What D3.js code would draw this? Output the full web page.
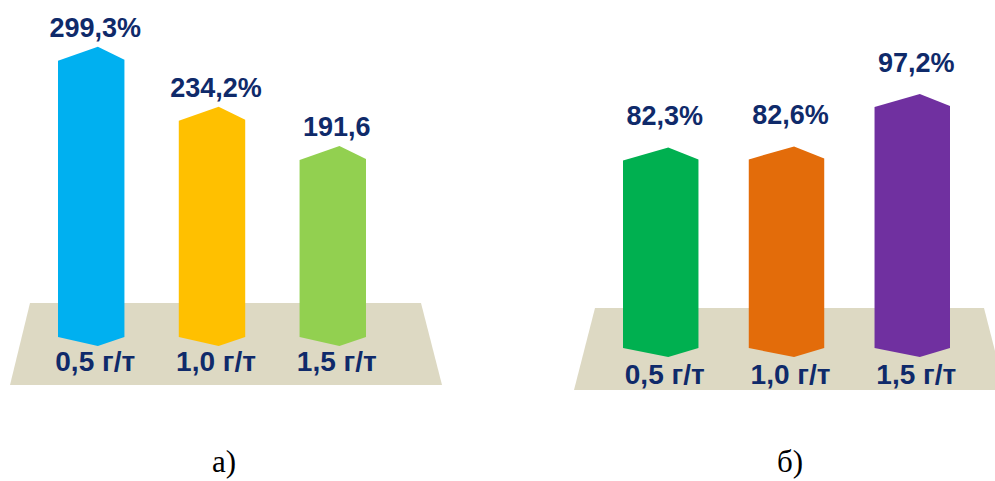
<!DOCTYPE html>
<html>
<head>
<meta charset="utf-8">
<script src="https://cdn.jsdelivr.net/npm/d3@7"></script>
<style>
    html, body { margin: 0; padding: 0; background: #fff; }
    svg { display: block; }
</style>
</head>
<body>
<div id="chart"></div>
<script>
// categories shared by both panels
var categories = ["0,5 г/т", "1,0 г/т", "1,5 г/т"];

// panel а)
var valuesA = [299.3, 234.2, 191.6];
var labelsA = ["299,3%", "234,2%", "191,6"];
var colorsA = ["#00b0f0", "#ffc000", "#92d050"];

// panel б)
var valuesB = [82.3, 82.6, 97.2];
var labelsB = ["82,3%", "82,6%", "97,2%"];
var colorsB = ["#00b050", "#e36c0a", "#7030a0"];

var captions = ["а)", "б)"];

var width = 995, height = 481;
var textColor = "#0f2a6a",
    floorColor = "#ddd9c3";

var svg = d3.select("#chart").append("svg")
    .attr("width", width)
    .attr("height", height);

var panels = [
    {
        values: valuesA, labels: labelsA, colors: colorsA, caption: captions[0],
        xRange: [58, 366], padding: 0.45,
        yDomain: [0, 300], yRange: [337, 60],
        floor: [[30, 303], [421, 303], [442, 385], [10, 385]],
        peak: 14, labelGap: 10, catY: 371, captionX: 224
    },
    {
        values: valuesB, labels: labelsB, colors: colorsB, caption: captions[1],
        xRange: [623, 950], padding: 0.40,
        yDomain: [30, 100], yRange: [348, 97],
        floor: [[595, 308], [984, 308], [1005, 390], [574, 390]],
        peak: 13, labelGap: 22, catY: 384, captionX: 790
    }
];

panels.forEach(function(p){
    var x = d3.scaleBand()
        .domain(d3.range(categories.length))
        .range(p.xRange)
        .paddingInner(p.padding)
        .paddingOuter(0);

    var y = d3.scaleLinear()
        .domain(p.yDomain)
        .range(p.yRange);

    var g = svg.append("g");

    // the beige "floor" under the columns
    g.append("path")
        .attr("d", d3.line()(p.floor) + "Z")
        .attr("fill", floorColor);

    var base = y(p.yDomain[0]);

    // hexagonal-ish column: top and bottom have a ridge at 60% of width
    function barPath(d, i){
        var x0 = x(i), x1 = x0 + x.bandwidth(),
            px = x0 + x.bandwidth() * 0.6,
            top = y(d);
        return "M" + x0 + "," + top +
            "L" + px + "," + (top - p.peak) +
            "L" + x1 + "," + (top - 1) +
            "L" + x1 + "," + base +
            "L" + px + "," + (base + 9) +
            "L" + x0 + "," + base + "Z";
    }

    g.selectAll("path.bar")
        .data(p.values)
        .enter().append("path")
        .attr("class", "bar")
        .attr("d", barPath)
        .attr("fill", function(d, i){ return p.colors[i]; });

    g.selectAll("text.value")
        .data(p.values)
        .enter().append("text")
        .attr("class", "value")
        .attr("x", function(d, i){ return x(i) + x.bandwidth() / 2 + 4; })
        .attr("y", function(d){ return y(d) - p.peak - p.labelGap; })
        .attr("text-anchor", "middle")
        .attr("font-family", "'Liberation Sans', Arial, sans-serif")
        .attr("font-weight", "bold")
        .attr("font-size", 27)
        .attr("fill", textColor)
        .text(function(d, i){ return p.labels[i]; });

    g.selectAll("text.cat")
        .data(categories)
        .enter().append("text")
        .attr("class", "cat")
        .attr("x", function(d, i){ return x(i) + x.bandwidth() / 2 + 4; })
        .attr("y", p.catY)
        .attr("text-anchor", "middle")
        .attr("font-family", "'Liberation Sans', Arial, sans-serif")
        .attr("font-weight", "bold")
        .attr("font-size", 28)
        .attr("fill", textColor)
        .text(function(d){ return d; });

    g.append("text")
        .attr("x", p.captionX)
        .attr("y", 472)
        .attr("text-anchor", "middle")
        .attr("font-family", "'Liberation Serif', 'Times New Roman', serif")
        .attr("font-size", 31)
        .attr("fill", "#000")
        .text(p.caption);
});
</script>
</body>
</html>
